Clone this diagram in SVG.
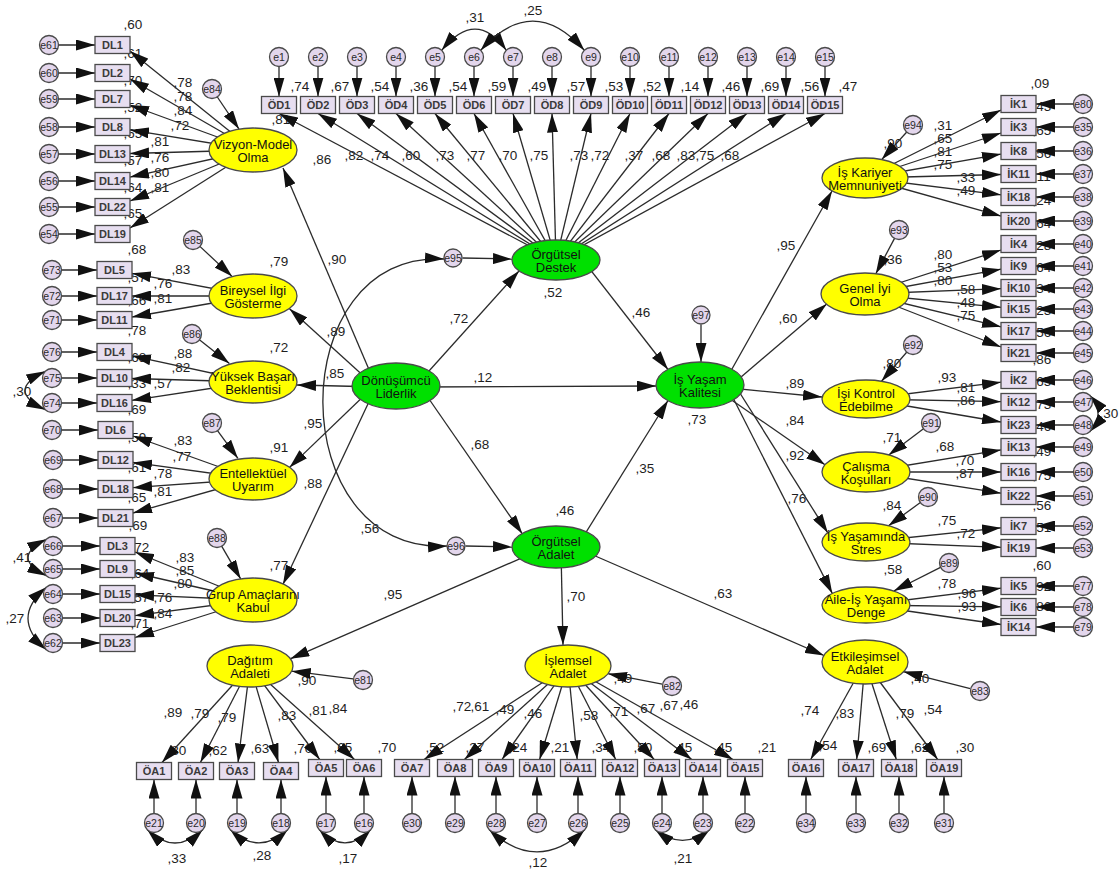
<svg xmlns="http://www.w3.org/2000/svg" width="1120" height="869" viewBox="0 0 1120 869">
<defs>
<style>
.c{fill:none;stroke:#2b2b2b;stroke-width:1.3;marker-end:url(#ah)}
.d{fill:none;stroke:#2b2b2b;stroke-width:1.3;marker-start:url(#ah);marker-end:url(#ah)}
.bx{fill:#E7DEF0;stroke:#4a4a4a;stroke-width:1.3}
.ci{fill:#E3D6EC;stroke:#4a4a4a;stroke-width:1.3}
.ey{fill:#FFFF00;stroke:#4a4a4a;stroke-width:1.3}
.eg{fill:#00E000;stroke:#4a4a4a;stroke-width:1.3}
text{font-family:"Liberation Sans",Arial,sans-serif;text-anchor:middle}
.n text{font-size:13.5px;fill:#1e1e1e}
.bt{font-size:11px;font-weight:bold;fill:#3a3a3a}
.ct{font-size:10.5px;fill:#2a2a2a}
.et{font-size:13px;fill:#111}
</style>
<marker id="ah" viewBox="0 0 19 11" refX="19" refY="5.5" markerWidth="19" markerHeight="11" markerUnits="userSpaceOnUse" orient="auto-start-reverse"><path d="M0,0L19,5.5L0,11z" fill="#111"/></marker>
</defs>
<rect width="1120" height="869" fill="#fff"/>
<g id="labels" class="n">
<text x="133" y="29">,60</text><text x="133" y="58">,61</text><text x="133" y="85">,70</text><text x="133" y="112">,52</text><text x="133" y="138">,65</text><text x="133" y="165">,57</text><text x="133" y="192">,64</text><text x="133" y="218">,65</text>
<text x="183" y="87">,78</text><text x="183" y="101">,78</text><text x="183" y="115">,84</text><text x="180" y="130">,72</text><text x="160" y="146">,81</text><text x="160" y="162">,76</text><text x="160" y="177">,80</text><text x="160" y="192">,81</text>
<text x="137" y="254">,68</text><text x="279" y="266">,79</text><text x="181" y="274">,83</text><text x="137" y="282">,57</text><text x="163" y="288">,76</text><text x="137" y="305">,66</text><text x="163" y="303">,81</text>
<text x="137" y="335">,78</text><text x="279" y="352">,72</text><text x="183" y="358">,88</text><text x="137" y="362">,68</text><text x="181" y="372">,82</text><text x="137" y="388">,33</text><text x="163" y="388">,57</text><text x="22" y="396">,30</text><text x="137" y="414">,69</text>
<text x="183" y="445">,83</text><text x="137" y="442">,59</text><text x="279" y="452">,91</text><text x="182" y="461">,77</text><text x="137" y="472">,61</text><text x="163" y="478">,78</text><text x="137" y="502">,65</text><text x="163" y="496">,81</text><text x="138" y="530">,69</text>
<text x="140" y="552">,72</text><text x="185" y="562">,83</text><text x="185" y="575">,85</text><text x="140" y="578">,64</text><text x="183" y="588">,80</text><text x="140" y="602">,57</text><text x="163" y="602">,76</text><text x="163" y="618">,84</text><text x="140" y="628">,71</text><text x="22" y="562">,41</text><text x="15" y="623">,27</text><text x="279" y="570">,77</text>
<text x="281" y="124">,81</text>
<text x="300" y="91">,74</text><text x="340" y="91">,67</text><text x="380" y="91">,54</text><text x="419" y="91">,36</text><text x="458" y="91">,54</text><text x="497" y="91">,59</text><text x="537" y="91">,49</text><text x="576" y="91">,57</text><text x="614" y="91">,53</text><text x="652" y="91">,52</text><text x="690" y="91">,14</text><text x="731" y="91">,46</text><text x="770" y="91">,69</text><text x="810" y="91">,56</text><text x="848" y="91">,47</text>
<text x="322" y="164">,86</text><text x="354" y="160">,82</text><text x="380" y="160">,74</text><text x="411" y="160">,60</text><text x="445" y="160">,73</text><text x="476" y="160">,77</text><text x="508" y="160">,70</text><text x="539" y="160">,75</text><text x="579" y="160">,73</text><text x="600" y="160">,72</text><text x="634" y="160">,37</text><text x="661" y="160">,68</text><text x="686" y="160">,83</text><text x="705" y="160">,75</text><text x="730" y="160">,68</text>
<text x="475" y="22">,31</text><text x="533" y="15">,25</text>
<text x="337" y="264">,90</text><text x="336" y="336">,89</text><text x="335" y="378">,85</text><text x="313" y="428">,95</text><text x="313" y="488">,88</text><text x="553" y="297">,52</text><text x="459" y="323">,72</text><text x="641" y="317">,46</text><text x="483" y="382">,12</text><text x="697" y="424">,73</text><text x="480" y="449">,68</text><text x="645" y="473">,35</text><text x="565" y="515">,46</text><text x="370" y="533">,56</text><text x="393" y="599">,95</text><text x="576" y="601">,70</text><text x="723" y="598">,63</text>
<text x="786" y="250">,95</text><text x="788" y="323">,60</text><text x="795" y="388">,89</text><text x="795" y="425">,84</text><text x="795" y="460">,92</text><text x="797" y="503">,76</text>
<text x="1040" y="88">,09</text><text x="1042" y="111">,43</text><text x="1042" y="135">,65</text><text x="1042" y="158">,56</text><text x="1042" y="181">,11</text><text x="1042" y="205">,24</text><text x="1042" y="228">,64</text><text x="1042" y="250">,28</text><text x="1042" y="272">,64</text><text x="1042" y="293">,34</text><text x="1042" y="315">,23</text><text x="1042" y="337">,56</text><text x="1042" y="364">,86</text><text x="1042" y="386">,65</text><text x="1042" y="409">,73</text><text x="1042" y="431">,46</text><text x="1042" y="456">,49</text><text x="1042" y="480">,75</text><text x="1042" y="510">,56</text><text x="1042" y="532">,51</text><text x="1042" y="570">,60</text><text x="1042" y="591">,92</text><text x="1042" y="611">,86</text>
<text x="943" y="130">,31</text><text x="943" y="143">,65</text><text x="943" y="156">,81</text><text x="943" y="169">,75</text><text x="966" y="182">,33</text><text x="966" y="195">,49</text><text x="893" y="148">,90</text>
<text x="943" y="259">,80</text><text x="943" y="272">,53</text><text x="943" y="285">,80</text><text x="966" y="294">,58</text><text x="966" y="307">,48</text><text x="966" y="320">,75</text><text x="893" y="264">,36</text>
<text x="892" y="368">,80</text><text x="947" y="382">,93</text><text x="966" y="392">,81</text><text x="966" y="405">,86</text><text x="1109" y="418">,30</text>
<text x="892" y="442">,71</text><text x="945" y="451">,68</text><text x="965" y="465">,70</text><text x="965" y="478">,87</text>
<text x="892" y="510">,84</text><text x="947" y="525">,75</text><text x="966" y="538">,72</text>
<text x="893" y="574">,58</text><text x="947" y="588">,78</text><text x="967" y="598">,96</text><text x="967" y="611">,93</text>
<text x="307" y="685">,90</text><text x="173" y="717">,89</text><text x="200" y="718">,79</text><text x="227" y="722">,79</text><text x="287" y="720">,83</text><text x="318" y="715">,81</text><text x="338" y="713">,84</text>
<text x="177" y="755">,80</text><text x="218" y="755">,62</text><text x="260" y="753">,63</text><text x="303" y="753">,70</text><text x="343" y="752">,65</text><text x="387" y="752">,70</text>
<text x="177" y="863">,33</text><text x="262" y="860">,28</text><text x="348" y="863">,17</text>
<text x="623" y="683">,49</text><text x="462" y="711">,72</text><text x="480" y="711">,61</text><text x="505" y="714">,49</text><text x="533" y="718">,46</text><text x="589" y="720">,58</text><text x="619" y="716">,71</text><text x="646" y="713">,67</text><text x="669" y="710">,67</text><text x="689" y="709">,46</text>
<text x="435" y="752">,52</text><text x="475" y="752">,37</text><text x="518" y="752">,24</text><text x="560" y="752">,21</text><text x="601" y="752">,34</text><text x="643" y="752">,50</text><text x="683" y="752">,45</text><text x="723" y="752">,45</text><text x="767" y="752">,21</text>
<text x="538" y="867">,12</text><text x="683" y="863">,21</text>
<text x="920" y="683">,40</text><text x="810" y="715">,74</text><text x="845" y="718">,83</text><text x="905" y="718">,79</text><text x="933" y="714">,54</text>
<text x="828" y="750">,54</text><text x="877" y="752">,69</text><text x="920" y="752">,62</text><text x="965" y="752">,30</text>
</g>
<g id="connectors">
<path class="c" d="M58.5 45H95"/><path class="c" d="M58.5 73H95"/><path class="c" d="M58.5 99H95"/><path class="c" d="M58.5 127H95"/><path class="c" d="M58.5 154H95"/><path class="c" d="M58.5 181H95"/><path class="c" d="M58.5 207H95"/><path class="c" d="M58.5 234H95"/>
<path class="c" d="M61.5 270H97"/><path class="c" d="M61.5 296H97"/><path class="c" d="M61.5 320H97"/><path class="c" d="M61.5 352H97"/><path class="c" d="M61.5 378H97"/><path class="c" d="M61.5 403H97"/>
<path class="c" d="M61.5 430H98"/><path class="c" d="M62.5 460H98"/><path class="c" d="M62.5 489H98"/><path class="c" d="M62.5 518H98"/>
<path class="c" d="M62.5 546H100"/><path class="c" d="M62.5 569H100"/><path class="c" d="M62.5 594H100"/><path class="c" d="M62.5 618H100"/><path class="c" d="M62.5 643H100"/>
<path class="c" d="M253 150L130 51"/><path class="c" d="M253 150L130 79"/><path class="c" d="M253 150L130 105"/><path class="c" d="M253 150L130 129.9"/><path class="c" d="M253 150L130 153.5"/><path class="c" d="M253 150L130 177.1"/><path class="c" d="M253 150L130 201"/><path class="c" d="M253 150L130 228"/>
<path class="c" d="M253 296L132 273.3"/><path class="c" d="M253 296L132 296"/><path class="c" d="M253 296L132 317"/>
<path class="c" d="M253 382L132 355.8"/><path class="c" d="M253 382L132 378.5"/><path class="c" d="M253 382L132 400.3"/>
<path class="c" d="M253 479L133 436"/><path class="c" d="M253 479L133 462.4"/><path class="c" d="M253 479L133 487.7"/><path class="c" d="M253 479L133 513"/>
<path class="c" d="M253 600L135 552"/><path class="c" d="M253 600L135 573"/><path class="c" d="M253 600L135 594.8"/><path class="c" d="M253 600L135 615.7"/><path class="c" d="M253 600L135 637.5"/>
<path class="c" d="M217 96.5L239 129.1"/><path class="c" d="M199.6 246.1L232.2 276.6"/><path class="c" d="M199.1 339.6L229.4 363.4"/><path class="c" d="M217.3 430.3L237.9 458.3"/><path class="c" d="M221.5 545.8L240.7 578.9"/>
<path class="c" d="M376 386L283 168"/><path class="c" d="M368 380L289.5 308.7"/><path class="c" d="M380 387L297 385"/><path class="c" d="M370 390L289.5 467.4"/><path class="c" d="M375 389L283 584.2"/>
<path class="c" d="M420 381L519 271"/><path class="c" d="M420 387L656 386"/><path class="c" d="M420 386L522.3 533.8"/><path class="c" d="M575 250L668 369.5"/><path class="c" d="M575 550L668 400.5"/>
<path class="c" d="M462.5 258L512 259"/><path class="c" d="M465.5 546L512 547"/><path class="c" d="M701 324.5L701 362"/>
<path class="d" d="M444 259C282 250 282 555 447 546"/>
<path class="c" d="M540 550L290.3 658.8"/><path class="c" d="M561 550L563 645"/><path class="c" d="M570 545L824 655.5"/>
<path class="c" d="M723 385L832 191"/><path class="c" d="M720 395L826.7 304"/><path class="c" d="M700 385L822 397"/><path class="c" d="M710 385L825 464.7"/><path class="c" d="M738 390L827.8 532.8"/><path class="c" d="M728 388L832.3 593.4"/>
<path class="c" d="M279 66.5V96.5"/><path class="c" d="M318 66.5V96.5"/><path class="c" d="M357 66.5V96.5"/><path class="c" d="M396 66.5V96.5"/><path class="c" d="M435 66.5V96.5"/><path class="c" d="M474 66.5V96.5"/><path class="c" d="M513 66.5V96.5"/><path class="c" d="M552 66.5V96.5"/><path class="c" d="M591 66.5V96.5"/><path class="c" d="M630 66.5V96.5"/><path class="c" d="M669 66.5V96.5"/><path class="c" d="M708 66.5V96.5"/><path class="c" d="M747 66.5V96.5"/><path class="c" d="M786 66.5V96.5"/><path class="c" d="M825 66.5V96.5"/>
<path class="c" d="M556 260L279 113.5"/><path class="c" d="M556 260L318 113.5"/><path class="c" d="M556 260L357 113.5"/><path class="c" d="M556 260L396 113.5"/><path class="c" d="M556 260L435 113.5"/><path class="c" d="M556 260L474 113.5"/><path class="c" d="M556 260L513 113.5"/><path class="c" d="M556 260L552 113.5"/><path class="c" d="M556 260L591 113.5"/><path class="c" d="M556 260L630 113.5"/><path class="c" d="M556 260L669 113.5"/><path class="c" d="M556 260L708 113.5"/><path class="c" d="M556 260L747 113.5"/><path class="c" d="M556 260L786 113.5"/><path class="c" d="M556 260L825 113.5"/>
<path class="c" d="M1073.5 104H1036"/><path class="c" d="M1073.5 127H1036"/><path class="c" d="M1073.5 151H1036"/><path class="c" d="M1073.5 174H1036"/><path class="c" d="M1073.5 197H1036"/><path class="c" d="M1073.5 221H1036"/><path class="c" d="M1073.5 244H1036"/><path class="c" d="M1073.5 266H1036"/><path class="c" d="M1073.5 288H1036"/><path class="c" d="M1073.5 309H1036"/><path class="c" d="M1073.5 331H1036"/><path class="c" d="M1073.5 353H1036"/><path class="c" d="M1073.5 380H1036"/><path class="c" d="M1073.5 402H1036"/><path class="c" d="M1073.5 425H1036"/><path class="c" d="M1073.5 447H1036"/><path class="c" d="M1073.5 472H1036"/><path class="c" d="M1073.5 496H1036"/><path class="c" d="M1073.5 526H1036"/><path class="c" d="M1073.5 548H1036"/><path class="c" d="M1073.5 586H1036"/><path class="c" d="M1073.5 607H1036"/><path class="c" d="M1073.5 627H1036"/>
<path class="c" d="M865 178L1001 110"/><path class="c" d="M865 178L1001 133"/><path class="c" d="M865 178L1001 154.1"/><path class="c" d="M865 178L1001 174.5"/><path class="c" d="M865 178L1001 194.8"/><path class="c" d="M865 178L1001 216.1"/>
<path class="c" d="M865 294L1001 250"/><path class="c" d="M865 294L1001 269.2"/><path class="c" d="M865 294L1001 288.7"/><path class="c" d="M865 294L1001 307.3"/><path class="c" d="M865 294L1001 326.8"/><path class="c" d="M865 294L1001 347"/>
<path class="c" d="M866 399L1001 382.2"/><path class="c" d="M866 399L1001 401.7"/><path class="c" d="M866 399L1001 422"/><path class="c" d="M866 472L1001 449.9"/><path class="c" d="M866 472L1001 472"/><path class="c" d="M866 472L1001 493.2"/><path class="c" d="M866 542L1001 527.8"/><path class="c" d="M866 542L1001 547.3"/><path class="c" d="M866 605L1001 588.2"/><path class="c" d="M866 605L1001 606.8"/><path class="c" d="M866 605L1001 624.5"/>
<path class="c" d="M907 131.7L881.7 159.6"/><path class="c" d="M894.8 237.9L875.8 273.7"/><path class="c" d="M907.1 351.8L881.5 381.2"/><path class="c" d="M923.8 428.4L888.7 454.9"/><path class="c" d="M920.7 502.3L888.5 525.7"/><path class="c" d="M941 567.1L893.7 591"/>
<path class="c" d="M250 666L162 762.5"/><path class="c" d="M250 666L200.4 762.5"/><path class="c" d="M250 666L238 762.5"/><path class="c" d="M250 666L278.5 762.5"/><path class="c" d="M250 666L319.7 759.5"/><path class="c" d="M250 666L354.5 759.5"/>
<path class="c" d="M568 666L424 759.5"/><path class="c" d="M568 666L464.4 759.5"/><path class="c" d="M568 666L502 759.5"/><path class="c" d="M568 666L539.6 759.5"/><path class="c" d="M568 666L577.2 759.5"/><path class="c" d="M568 666L615.7 759.5"/><path class="c" d="M568 666L654.2 759.5"/><path class="c" d="M568 666L691.8 759.5"/><path class="c" d="M568 666L733 759.5"/>
<path class="c" d="M865 662L810.7 759.5"/><path class="c" d="M865 662L856.7 759.5"/><path class="c" d="M865 662L896.3 759.5"/><path class="c" d="M865 662L937.7 759.5"/>
<path class="c" d="M353.1 678.8L291.7 671.2"/><path class="c" d="M662.2 684.1L608 673.7"/><path class="c" d="M970.3 688.6L903.2 671.6"/>
<path class="c" d="M154 813.5V779.5"/><path class="c" d="M196 813.5V779.5"/><path class="c" d="M237 813.5V779.5"/><path class="c" d="M281 813.5V779.5"/><path class="c" d="M326 813.5V776.5"/><path class="c" d="M364 813.5V776.5"/><path class="c" d="M412 813.5V776.5"/><path class="c" d="M455 813.5V776.5"/><path class="c" d="M496 813.5V776.5"/><path class="c" d="M537 813.5V776.5"/><path class="c" d="M578 813.5V776.5"/><path class="c" d="M620 813.5V776.5"/><path class="c" d="M662 813.5V776.5"/><path class="c" d="M703 813.5V776.5"/><path class="c" d="M745 813.5V776.5"/><path class="c" d="M806 813.5V776.5"/><path class="c" d="M856 813.5V776.5"/><path class="c" d="M899 813.5V776.5"/><path class="c" d="M944 813.5V776.5"/>
<path class="d" d="M441.7 50.3Q476 8 506.3 50.3"/>
<path class="d" d="M480.7 50.3Q533 -8 584.3 50.3"/>
<path class="d" d="M45.3 371.3Q4.7 390.5 45.3 409.7"/>
<path class="d" d="M46.3 539.3Q9.7 557.5 46.3 575.7"/>
<path class="d" d="M46.3 587.3Q9.7 618.5 46.3 649.7"/>
<path class="d" d="M1089.7 395.3Q1106.3 413.5 1089.7 431.7"/>
<path class="d" d="M147.3 829.7Q175 856.3 202.7 829.7"/>
<path class="d" d="M230.3 829.7Q259 856 287.7 829.7"/>
<path class="d" d="M319.3 829.7Q345 856 370.7 829.7"/>
<path class="d" d="M489.3 829.7Q537 874 584.7 829.7"/>
<path class="d" d="M655.3 829.7Q682.5 851 709.7 829.7"/>
</g>
<g id="nodes">
<g id="DL1"><rect class="bx" x="95" y="36.5" width="35" height="17"/><text class="bt" x="112.5" y="49">DL1</text></g>
<g id="DL2"><rect class="bx" x="95" y="64.5" width="35" height="17"/><text class="bt" x="112.5" y="77">DL2</text></g>
<g id="DL7"><rect class="bx" x="95" y="90.5" width="35" height="17"/><text class="bt" x="112.5" y="103">DL7</text></g>
<g id="DL8"><rect class="bx" x="95" y="118.5" width="35" height="17"/><text class="bt" x="112.5" y="131">DL8</text></g>
<g id="DL13"><rect class="bx" x="95" y="145.5" width="35" height="17"/><text class="bt" x="112.5" y="158">DL13</text></g>
<g id="DL14"><rect class="bx" x="95" y="172.5" width="35" height="17"/><text class="bt" x="112.5" y="185">DL14</text></g>
<g id="DL22"><rect class="bx" x="95" y="198.5" width="35" height="17"/><text class="bt" x="112.5" y="211">DL22</text></g>
<g id="DL19"><rect class="bx" x="95" y="225.5" width="35" height="17"/><text class="bt" x="112.5" y="238">DL19</text></g>
<g id="DL5"><rect class="bx" x="97" y="261.5" width="35" height="17"/><text class="bt" x="114.5" y="274">DL5</text></g>
<g id="DL17"><rect class="bx" x="97" y="287.5" width="35" height="17"/><text class="bt" x="114.5" y="300">DL17</text></g>
<g id="DL11"><rect class="bx" x="97" y="311.5" width="35" height="17"/><text class="bt" x="114.5" y="324">DL11</text></g>
<g id="DL4"><rect class="bx" x="97" y="343.5" width="35" height="17"/><text class="bt" x="114.5" y="356">DL4</text></g>
<g id="DL10"><rect class="bx" x="97" y="369.5" width="35" height="17"/><text class="bt" x="114.5" y="382">DL10</text></g>
<g id="DL16"><rect class="bx" x="97" y="394.5" width="35" height="17"/><text class="bt" x="114.5" y="407">DL16</text></g>
<g id="DL6"><rect class="bx" x="98" y="421.5" width="35" height="17"/><text class="bt" x="115.5" y="434">DL6</text></g>
<g id="DL12"><rect class="bx" x="98" y="451.5" width="35" height="17"/><text class="bt" x="115.5" y="464">DL12</text></g>
<g id="DL18"><rect class="bx" x="98" y="480.5" width="35" height="17"/><text class="bt" x="115.5" y="493">DL18</text></g>
<g id="DL21"><rect class="bx" x="98" y="509.5" width="35" height="17"/><text class="bt" x="115.5" y="522">DL21</text></g>
<g id="DL3"><rect class="bx" x="100" y="537.5" width="35" height="17"/><text class="bt" x="117.5" y="550">DL3</text></g>
<g id="DL9"><rect class="bx" x="100" y="560.5" width="35" height="17"/><text class="bt" x="117.5" y="573">DL9</text></g>
<g id="DL15"><rect class="bx" x="100" y="585.5" width="35" height="17"/><text class="bt" x="117.5" y="598">DL15</text></g>
<g id="DL20"><rect class="bx" x="100" y="609.5" width="35" height="17"/><text class="bt" x="117.5" y="622">DL20</text></g>
<g id="DL23"><rect class="bx" x="100" y="634.5" width="35" height="17"/><text class="bt" x="117.5" y="647">DL23</text></g>
<g id="e61"><circle class="ci" cx="49" cy="45" r="9.5"/><text class="ct" x="49" y="48.5">e61</text></g>
<g id="e60"><circle class="ci" cx="49" cy="73" r="9.5"/><text class="ct" x="49" y="76.5">e60</text></g>
<g id="e59"><circle class="ci" cx="49" cy="99" r="9.5"/><text class="ct" x="49" y="102.5">e59</text></g>
<g id="e58"><circle class="ci" cx="49" cy="127" r="9.5"/><text class="ct" x="49" y="130.5">e58</text></g>
<g id="e57"><circle class="ci" cx="49" cy="154" r="9.5"/><text class="ct" x="49" y="157.5">e57</text></g>
<g id="e56"><circle class="ci" cx="49" cy="181" r="9.5"/><text class="ct" x="49" y="184.5">e56</text></g>
<g id="e55"><circle class="ci" cx="49" cy="207" r="9.5"/><text class="ct" x="49" y="210.5">e55</text></g>
<g id="e54"><circle class="ci" cx="49" cy="234" r="9.5"/><text class="ct" x="49" y="237.5">e54</text></g>
<g id="e73"><circle class="ci" cx="52" cy="270" r="9.5"/><text class="ct" x="52" y="273.5">e73</text></g>
<g id="e72"><circle class="ci" cx="52" cy="296" r="9.5"/><text class="ct" x="52" y="299.5">e72</text></g>
<g id="e71"><circle class="ci" cx="52" cy="320" r="9.5"/><text class="ct" x="52" y="323.5">e71</text></g>
<g id="e76"><circle class="ci" cx="52" cy="352" r="9.5"/><text class="ct" x="52" y="355.5">e76</text></g>
<g id="e75"><circle class="ci" cx="52" cy="378" r="9.5"/><text class="ct" x="52" y="381.5">e75</text></g>
<g id="e74"><circle class="ci" cx="52" cy="403" r="9.5"/><text class="ct" x="52" y="406.5">e74</text></g>
<g id="e70"><circle class="ci" cx="52" cy="430" r="9.5"/><text class="ct" x="52" y="433.5">e70</text></g>
<g id="e69"><circle class="ci" cx="53" cy="460" r="9.5"/><text class="ct" x="53" y="463.5">e69</text></g>
<g id="e68"><circle class="ci" cx="53" cy="489" r="9.5"/><text class="ct" x="53" y="492.5">e68</text></g>
<g id="e67"><circle class="ci" cx="53" cy="518" r="9.5"/><text class="ct" x="53" y="521.5">e67</text></g>
<g id="e66"><circle class="ci" cx="53" cy="546" r="9.5"/><text class="ct" x="53" y="549.5">e66</text></g>
<g id="e65"><circle class="ci" cx="53" cy="569" r="9.5"/><text class="ct" x="53" y="572.5">e65</text></g>
<g id="e64"><circle class="ci" cx="53" cy="594" r="9.5"/><text class="ct" x="53" y="597.5">e64</text></g>
<g id="e63"><circle class="ci" cx="53" cy="618" r="9.5"/><text class="ct" x="53" y="621.5">e63</text></g>
<g id="e62"><circle class="ci" cx="53" cy="643" r="9.5"/><text class="ct" x="53" y="646.5">e62</text></g>
<g id="e84"><circle class="ci" cx="212" cy="89" r="9.5"/><text class="ct" x="212" y="92.5">e84</text></g>
<g id="e85"><circle class="ci" cx="193" cy="240" r="9.5"/><text class="ct" x="193" y="243.5">e85</text></g>
<g id="e86"><circle class="ci" cx="192" cy="334" r="9.5"/><text class="ct" x="192" y="337.5">e86</text></g>
<g id="e87"><circle class="ci" cx="212" cy="423" r="9.5"/><text class="ct" x="212" y="426.5">e87</text></g>
<g id="e88"><circle class="ci" cx="217" cy="538" r="9.5"/><text class="ct" x="217" y="541.5">e88</text></g>
<g id="VizyonModel"><ellipse class="ey" cx="253" cy="150" rx="44" ry="22"/><text class="et" x="253" y="148.5">Vizyon-Model</text><text class="et" x="253" y="162">Olma</text></g>
<g id="BireyselIlgi"><ellipse class="ey" cx="253" cy="296" rx="44" ry="22"/><text class="et" x="253" y="294.5">Bireysel İlgi</text><text class="et" x="253" y="308">Gösterme</text></g>
<g id="YuksekBasari"><ellipse class="ey" cx="253" cy="382" rx="44" ry="21"/><text class="et" x="253" y="380.5">Yüksek Başarı</text><text class="et" x="253" y="394">Beklentisi</text></g>
<g id="Entellektuel"><ellipse class="ey" cx="253" cy="479" rx="44" ry="21"/><text class="et" x="253" y="477.5">Entellektüel</text><text class="et" x="253" y="491">Uyarım</text></g>
<g id="GrupAmaclari"><ellipse class="ey" cx="253" cy="600" rx="44" ry="22"/><text class="et" x="253" y="598.5">Grup Amaçlarını</text><text class="et" x="253" y="612">Kabul</text></g>
<g id="Donusumcu"><ellipse class="eg" cx="396" cy="386" rx="44" ry="23"/><text class="et" x="396" y="384.5">Dönüşümcü</text><text class="et" x="396" y="398">Liderlik</text></g>
<g id="OrgutselDestek"><ellipse class="eg" cx="556" cy="260" rx="44" ry="20"/><text class="et" x="556" y="258.5">Örgütsel</text><text class="et" x="556" y="272">Destek</text></g>
<g id="IsYasam"><ellipse class="eg" cx="700" cy="385" rx="44" ry="23"/><text class="et" x="700" y="383.5">İş Yaşam</text><text class="et" x="700" y="397">Kalitesi</text></g>
<g id="OrgutselAdalet"><ellipse class="eg" cx="556" cy="547" rx="44" ry="21"/><text class="et" x="556" y="545.5">Örgütsel</text><text class="et" x="556" y="559">Adalet</text></g>
<g id="e95"><circle class="ci" cx="453" cy="258" r="9"/><text class="ct" x="453" y="261.5">e95</text></g>
<g id="e96"><circle class="ci" cx="456" cy="546" r="9"/><text class="ct" x="456" y="549.5">e96</text></g>
<g id="e97"><circle class="ci" cx="701" cy="315" r="9"/><text class="ct" x="701" y="318.5">e97</text></g>
<g id="OD1"><rect class="bx" x="261.5" y="96.5" width="35" height="17"/><text class="bt" x="279" y="109">ÖD1</text></g>
<g id="OD2"><rect class="bx" x="300.5" y="96.5" width="35" height="17"/><text class="bt" x="318" y="109">ÖD2</text></g>
<g id="OD3"><rect class="bx" x="339.5" y="96.5" width="35" height="17"/><text class="bt" x="357" y="109">ÖD3</text></g>
<g id="OD4"><rect class="bx" x="378.5" y="96.5" width="35" height="17"/><text class="bt" x="396" y="109">ÖD4</text></g>
<g id="OD5"><rect class="bx" x="417.5" y="96.5" width="35" height="17"/><text class="bt" x="435" y="109">ÖD5</text></g>
<g id="OD6"><rect class="bx" x="456.5" y="96.5" width="35" height="17"/><text class="bt" x="474" y="109">ÖD6</text></g>
<g id="OD7"><rect class="bx" x="495.5" y="96.5" width="35" height="17"/><text class="bt" x="513" y="109">ÖD7</text></g>
<g id="OD8"><rect class="bx" x="534.5" y="96.5" width="35" height="17"/><text class="bt" x="552" y="109">ÖD8</text></g>
<g id="OD9"><rect class="bx" x="573.5" y="96.5" width="35" height="17"/><text class="bt" x="591" y="109">ÖD9</text></g>
<g id="OD10"><rect class="bx" x="612.5" y="96.5" width="35" height="17"/><text class="bt" x="630" y="109">ÖD10</text></g>
<g id="OD11"><rect class="bx" x="651.5" y="96.5" width="35" height="17"/><text class="bt" x="669" y="109">ÖD11</text></g>
<g id="OD12"><rect class="bx" x="690.5" y="96.5" width="35" height="17"/><text class="bt" x="708" y="109">ÖD12</text></g>
<g id="OD13"><rect class="bx" x="729.5" y="96.5" width="35" height="17"/><text class="bt" x="747" y="109">ÖD13</text></g>
<g id="OD14"><rect class="bx" x="768.5" y="96.5" width="35" height="17"/><text class="bt" x="786" y="109">ÖD14</text></g>
<g id="OD15"><rect class="bx" x="807.5" y="96.5" width="35" height="17"/><text class="bt" x="825" y="109">ÖD15</text></g>
<g id="e1"><circle class="ci" cx="279" cy="57" r="9.5"/><text class="ct" x="279" y="60.5">e1</text></g>
<g id="e2"><circle class="ci" cx="318" cy="57" r="9.5"/><text class="ct" x="318" y="60.5">e2</text></g>
<g id="e3"><circle class="ci" cx="357" cy="57" r="9.5"/><text class="ct" x="357" y="60.5">e3</text></g>
<g id="e4"><circle class="ci" cx="396" cy="57" r="9.5"/><text class="ct" x="396" y="60.5">e4</text></g>
<g id="e5"><circle class="ci" cx="435" cy="57" r="9.5"/><text class="ct" x="435" y="60.5">e5</text></g>
<g id="e6"><circle class="ci" cx="474" cy="57" r="9.5"/><text class="ct" x="474" y="60.5">e6</text></g>
<g id="e7"><circle class="ci" cx="513" cy="57" r="9.5"/><text class="ct" x="513" y="60.5">e7</text></g>
<g id="e8"><circle class="ci" cx="552" cy="57" r="9.5"/><text class="ct" x="552" y="60.5">e8</text></g>
<g id="e9"><circle class="ci" cx="591" cy="57" r="9.5"/><text class="ct" x="591" y="60.5">e9</text></g>
<g id="e10"><circle class="ci" cx="630" cy="57" r="9.5"/><text class="ct" x="630" y="60.5">e10</text></g>
<g id="e11"><circle class="ci" cx="669" cy="57" r="9.5"/><text class="ct" x="669" y="60.5">e11</text></g>
<g id="e12"><circle class="ci" cx="708" cy="57" r="9.5"/><text class="ct" x="708" y="60.5">e12</text></g>
<g id="e13"><circle class="ci" cx="747" cy="57" r="9.5"/><text class="ct" x="747" y="60.5">e13</text></g>
<g id="e14"><circle class="ci" cx="786" cy="57" r="9.5"/><text class="ct" x="786" y="60.5">e14</text></g>
<g id="e15"><circle class="ci" cx="825" cy="57" r="9.5"/><text class="ct" x="825" y="60.5">e15</text></g>
<g id="IsKariyer"><ellipse class="ey" cx="865" cy="178" rx="43" ry="20"/><text class="et" x="865" y="176.5">İş Kariyer</text><text class="et" x="865" y="190">Memnuniyeti</text></g>
<g id="GenelIyi"><ellipse class="ey" cx="865" cy="294" rx="44" ry="21"/><text class="et" x="865" y="292.5">Genel İyi</text><text class="et" x="865" y="306">Olma</text></g>
<g id="IsiKontrol"><ellipse class="ey" cx="866" cy="399" rx="44" ry="19"/><text class="et" x="866" y="397.5">İşi Kontrol</text><text class="et" x="866" y="411">Edebilme</text></g>
<g id="Calisma"><ellipse class="ey" cx="866" cy="472" rx="44" ry="20"/><text class="et" x="866" y="470.5">Çalışma</text><text class="et" x="866" y="484">Koşulları</text></g>
<g id="IsYasamindaStres"><ellipse class="ey" cx="866" cy="542" rx="44" ry="19"/><text class="et" x="866" y="540.5">İş Yaşamında</text><text class="et" x="866" y="554">Stres</text></g>
<g id="AileIs"><ellipse class="ey" cx="866" cy="605" rx="44" ry="18"/><text class="et" x="866" y="603.5">Aile-İş Yaşamı</text><text class="et" x="866" y="617">Denge</text></g>
<g id="e94"><circle class="ci" cx="913" cy="125" r="9.5"/><text class="ct" x="913" y="128.5">e94</text></g>
<g id="e93"><circle class="ci" cx="899" cy="230" r="9.5"/><text class="ct" x="899" y="233.5">e93</text></g>
<g id="e92"><circle class="ci" cx="913" cy="345" r="9.5"/><text class="ct" x="913" y="348.5">e92</text></g>
<g id="e91"><circle class="ci" cx="931" cy="423" r="9.5"/><text class="ct" x="931" y="426.5">e91</text></g>
<g id="e90"><circle class="ci" cx="928" cy="497" r="9.5"/><text class="ct" x="928" y="500.5">e90</text></g>
<g id="e89"><circle class="ci" cx="949" cy="563" r="9.5"/><text class="ct" x="949" y="566.5">e89</text></g>
<g id="IK1"><rect class="bx" x="1001" y="95.5" width="35" height="17"/><text class="bt" x="1018.5" y="108">İK1</text></g>
<g id="IK3"><rect class="bx" x="1001" y="118.5" width="35" height="17"/><text class="bt" x="1018.5" y="131">İK3</text></g>
<g id="IK8"><rect class="bx" x="1001" y="142.5" width="35" height="17"/><text class="bt" x="1018.5" y="155">İK8</text></g>
<g id="IK11"><rect class="bx" x="1001" y="165.5" width="35" height="17"/><text class="bt" x="1018.5" y="178">İK11</text></g>
<g id="IK18"><rect class="bx" x="1001" y="188.5" width="35" height="17"/><text class="bt" x="1018.5" y="201">İK18</text></g>
<g id="IK20"><rect class="bx" x="1001" y="212.5" width="35" height="17"/><text class="bt" x="1018.5" y="225">İK20</text></g>
<g id="IK4"><rect class="bx" x="1001" y="235.5" width="35" height="17"/><text class="bt" x="1018.5" y="248">İK4</text></g>
<g id="IK9"><rect class="bx" x="1001" y="257.5" width="35" height="17"/><text class="bt" x="1018.5" y="270">İK9</text></g>
<g id="IK10"><rect class="bx" x="1001" y="279.5" width="35" height="17"/><text class="bt" x="1018.5" y="292">İK10</text></g>
<g id="IK15"><rect class="bx" x="1001" y="300.5" width="35" height="17"/><text class="bt" x="1018.5" y="313">İK15</text></g>
<g id="IK17"><rect class="bx" x="1001" y="322.5" width="35" height="17"/><text class="bt" x="1018.5" y="335">İK17</text></g>
<g id="IK21"><rect class="bx" x="1001" y="344.5" width="35" height="17"/><text class="bt" x="1018.5" y="357">İK21</text></g>
<g id="IK2"><rect class="bx" x="1001" y="371.5" width="35" height="17"/><text class="bt" x="1018.5" y="384">İK2</text></g>
<g id="IK12"><rect class="bx" x="1001" y="393.5" width="35" height="17"/><text class="bt" x="1018.5" y="406">İK12</text></g>
<g id="IK23"><rect class="bx" x="1001" y="416.5" width="35" height="17"/><text class="bt" x="1018.5" y="429">İK23</text></g>
<g id="IK13"><rect class="bx" x="1001" y="438.5" width="35" height="17"/><text class="bt" x="1018.5" y="451">İK13</text></g>
<g id="IK16"><rect class="bx" x="1001" y="463.5" width="35" height="17"/><text class="bt" x="1018.5" y="476">İK16</text></g>
<g id="IK22"><rect class="bx" x="1001" y="487.5" width="35" height="17"/><text class="bt" x="1018.5" y="500">İK22</text></g>
<g id="IK7"><rect class="bx" x="1001" y="517.5" width="35" height="17"/><text class="bt" x="1018.5" y="530">İK7</text></g>
<g id="IK19"><rect class="bx" x="1001" y="539.5" width="35" height="17"/><text class="bt" x="1018.5" y="552">İK19</text></g>
<g id="IK5"><rect class="bx" x="1001" y="577.5" width="35" height="17"/><text class="bt" x="1018.5" y="590">İK5</text></g>
<g id="IK6"><rect class="bx" x="1001" y="598.5" width="35" height="17"/><text class="bt" x="1018.5" y="611">İK6</text></g>
<g id="IK14"><rect class="bx" x="1001" y="618.5" width="35" height="17"/><text class="bt" x="1018.5" y="631">İK14</text></g>
<g id="e80"><circle class="ci" cx="1083" cy="104" r="9.5"/><text class="ct" x="1083" y="107.5">e80</text></g>
<g id="e35"><circle class="ci" cx="1083" cy="127" r="9.5"/><text class="ct" x="1083" y="130.5">e35</text></g>
<g id="e36"><circle class="ci" cx="1083" cy="151" r="9.5"/><text class="ct" x="1083" y="154.5">e36</text></g>
<g id="e37"><circle class="ci" cx="1083" cy="174" r="9.5"/><text class="ct" x="1083" y="177.5">e37</text></g>
<g id="e38"><circle class="ci" cx="1083" cy="197" r="9.5"/><text class="ct" x="1083" y="200.5">e38</text></g>
<g id="e39"><circle class="ci" cx="1083" cy="221" r="9.5"/><text class="ct" x="1083" y="224.5">e39</text></g>
<g id="e40"><circle class="ci" cx="1083" cy="244" r="9.5"/><text class="ct" x="1083" y="247.5">e40</text></g>
<g id="e41"><circle class="ci" cx="1083" cy="266" r="9.5"/><text class="ct" x="1083" y="269.5">e41</text></g>
<g id="e42"><circle class="ci" cx="1083" cy="288" r="9.5"/><text class="ct" x="1083" y="291.5">e42</text></g>
<g id="e43"><circle class="ci" cx="1083" cy="309" r="9.5"/><text class="ct" x="1083" y="312.5">e43</text></g>
<g id="e44"><circle class="ci" cx="1083" cy="331" r="9.5"/><text class="ct" x="1083" y="334.5">e44</text></g>
<g id="e45"><circle class="ci" cx="1083" cy="353" r="9.5"/><text class="ct" x="1083" y="356.5">e45</text></g>
<g id="e46"><circle class="ci" cx="1083" cy="380" r="9.5"/><text class="ct" x="1083" y="383.5">e46</text></g>
<g id="e47"><circle class="ci" cx="1083" cy="402" r="9.5"/><text class="ct" x="1083" y="405.5">e47</text></g>
<g id="e48"><circle class="ci" cx="1083" cy="425" r="9.5"/><text class="ct" x="1083" y="428.5">e48</text></g>
<g id="e49"><circle class="ci" cx="1083" cy="447" r="9.5"/><text class="ct" x="1083" y="450.5">e49</text></g>
<g id="e50"><circle class="ci" cx="1083" cy="472" r="9.5"/><text class="ct" x="1083" y="475.5">e50</text></g>
<g id="e51"><circle class="ci" cx="1083" cy="496" r="9.5"/><text class="ct" x="1083" y="499.5">e51</text></g>
<g id="e52"><circle class="ci" cx="1083" cy="526" r="9.5"/><text class="ct" x="1083" y="529.5">e52</text></g>
<g id="e53"><circle class="ci" cx="1083" cy="548" r="9.5"/><text class="ct" x="1083" y="551.5">e53</text></g>
<g id="e77"><circle class="ci" cx="1083" cy="586" r="9.5"/><text class="ct" x="1083" y="589.5">e77</text></g>
<g id="e78"><circle class="ci" cx="1083" cy="607" r="9.5"/><text class="ct" x="1083" y="610.5">e78</text></g>
<g id="e79"><circle class="ci" cx="1083" cy="627" r="9.5"/><text class="ct" x="1083" y="630.5">e79</text></g>
<g id="Dagitim"><ellipse class="ey" cx="250" cy="666" rx="43" ry="21"/><text class="et" x="250" y="664.5">Dağıtım</text><text class="et" x="250" y="678">Adaleti</text></g>
<g id="Islemsel"><ellipse class="ey" cx="568" cy="666" rx="43" ry="21"/><text class="et" x="568" y="664.5">İşlemsel</text><text class="et" x="568" y="678">Adalet</text></g>
<g id="Etkilesimsel"><ellipse class="ey" cx="865" cy="662" rx="43" ry="22"/><text class="et" x="865" y="660.5">Etkileşimsel</text><text class="et" x="865" y="674">Adalet</text></g>
<g id="e81"><circle class="ci" cx="363" cy="680" r="9.5"/><text class="ct" x="363" y="683.5">e81</text></g>
<g id="e82"><circle class="ci" cx="672" cy="686" r="9.5"/><text class="ct" x="672" y="689.5">e82</text></g>
<g id="e83"><circle class="ci" cx="980" cy="691" r="9.5"/><text class="ct" x="980" y="694.5">e83</text></g>
<g id="OA1"><rect class="bx" x="136.5" y="762.5" width="35" height="17"/><text class="bt" x="154" y="775">ÖA1</text></g>
<g id="OA2"><rect class="bx" x="178.5" y="762.5" width="35" height="17"/><text class="bt" x="196" y="775">ÖA2</text></g>
<g id="OA3"><rect class="bx" x="219.5" y="762.5" width="35" height="17"/><text class="bt" x="237" y="775">ÖA3</text></g>
<g id="OA4"><rect class="bx" x="263.5" y="762.5" width="35" height="17"/><text class="bt" x="281" y="775">ÖA4</text></g>
<g id="OA5"><rect class="bx" x="308.5" y="759.5" width="35" height="17"/><text class="bt" x="326" y="772">ÖA5</text></g>
<g id="OA6"><rect class="bx" x="346.5" y="759.5" width="35" height="17"/><text class="bt" x="364" y="772">ÖA6</text></g>
<g id="OA7"><rect class="bx" x="394.5" y="759.5" width="35" height="17"/><text class="bt" x="412" y="772">ÖA7</text></g>
<g id="OA8"><rect class="bx" x="437.5" y="759.5" width="35" height="17"/><text class="bt" x="455" y="772">ÖA8</text></g>
<g id="OA9"><rect class="bx" x="478.5" y="759.5" width="35" height="17"/><text class="bt" x="496" y="772">ÖA9</text></g>
<g id="OA10"><rect class="bx" x="519.5" y="759.5" width="35" height="17"/><text class="bt" x="537" y="772">ÖA10</text></g>
<g id="OA11"><rect class="bx" x="560.5" y="759.5" width="35" height="17"/><text class="bt" x="578" y="772">ÖA11</text></g>
<g id="OA12"><rect class="bx" x="602.5" y="759.5" width="35" height="17"/><text class="bt" x="620" y="772">ÖA12</text></g>
<g id="OA13"><rect class="bx" x="644.5" y="759.5" width="35" height="17"/><text class="bt" x="662" y="772">ÖA13</text></g>
<g id="OA14"><rect class="bx" x="685.5" y="759.5" width="35" height="17"/><text class="bt" x="703" y="772">ÖA14</text></g>
<g id="OA15"><rect class="bx" x="727.5" y="759.5" width="35" height="17"/><text class="bt" x="745" y="772">ÖA15</text></g>
<g id="OA16"><rect class="bx" x="788.5" y="759.5" width="35" height="17"/><text class="bt" x="806" y="772">ÖA16</text></g>
<g id="OA17"><rect class="bx" x="838.5" y="759.5" width="35" height="17"/><text class="bt" x="856" y="772">ÖA17</text></g>
<g id="OA18"><rect class="bx" x="881.5" y="759.5" width="35" height="17"/><text class="bt" x="899" y="772">ÖA18</text></g>
<g id="OA19"><rect class="bx" x="926.5" y="759.5" width="35" height="17"/><text class="bt" x="944" y="772">ÖA19</text></g>
<g id="e21"><circle class="ci" cx="154" cy="823" r="9.5"/><text class="ct" x="154" y="826.5">e21</text></g>
<g id="e20"><circle class="ci" cx="196" cy="823" r="9.5"/><text class="ct" x="196" y="826.5">e20</text></g>
<g id="e19"><circle class="ci" cx="237" cy="823" r="9.5"/><text class="ct" x="237" y="826.5">e19</text></g>
<g id="e18"><circle class="ci" cx="281" cy="823" r="9.5"/><text class="ct" x="281" y="826.5">e18</text></g>
<g id="e17"><circle class="ci" cx="326" cy="823" r="9.5"/><text class="ct" x="326" y="826.5">e17</text></g>
<g id="e16"><circle class="ci" cx="364" cy="823" r="9.5"/><text class="ct" x="364" y="826.5">e16</text></g>
<g id="e30"><circle class="ci" cx="412" cy="823" r="9.5"/><text class="ct" x="412" y="826.5">e30</text></g>
<g id="e29"><circle class="ci" cx="455" cy="823" r="9.5"/><text class="ct" x="455" y="826.5">e29</text></g>
<g id="e28"><circle class="ci" cx="496" cy="823" r="9.5"/><text class="ct" x="496" y="826.5">e28</text></g>
<g id="e27"><circle class="ci" cx="537" cy="823" r="9.5"/><text class="ct" x="537" y="826.5">e27</text></g>
<g id="e26"><circle class="ci" cx="578" cy="823" r="9.5"/><text class="ct" x="578" y="826.5">e26</text></g>
<g id="e25"><circle class="ci" cx="620" cy="823" r="9.5"/><text class="ct" x="620" y="826.5">e25</text></g>
<g id="e24"><circle class="ci" cx="662" cy="823" r="9.5"/><text class="ct" x="662" y="826.5">e24</text></g>
<g id="e23"><circle class="ci" cx="703" cy="823" r="9.5"/><text class="ct" x="703" y="826.5">e23</text></g>
<g id="e22"><circle class="ci" cx="745" cy="823" r="9.5"/><text class="ct" x="745" y="826.5">e22</text></g>
<g id="e34"><circle class="ci" cx="806" cy="823" r="9.5"/><text class="ct" x="806" y="826.5">e34</text></g>
<g id="e33"><circle class="ci" cx="856" cy="823" r="9.5"/><text class="ct" x="856" y="826.5">e33</text></g>
<g id="e32"><circle class="ci" cx="899" cy="823" r="9.5"/><text class="ct" x="899" y="826.5">e32</text></g>
<g id="e31"><circle class="ci" cx="944" cy="823" r="9.5"/><text class="ct" x="944" y="826.5">e31</text></g>
</g>
</svg>
